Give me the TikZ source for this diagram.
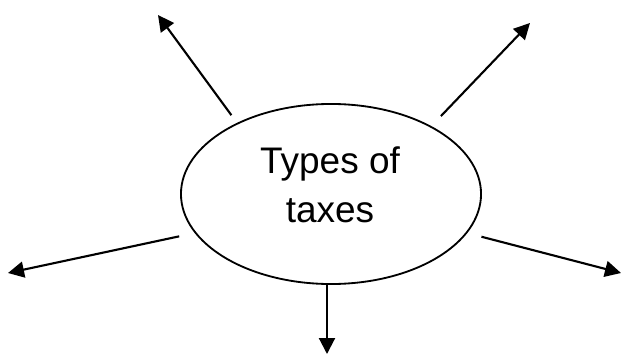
\documentclass[tikz,border=0pt]{standalone}
\usepackage{fontspec}
\setmainfont{Liberation Sans}
\usetikzlibrary{shapes.geometric,arrows.meta}
\begin{document}
\begin{tikzpicture}[x=0.025cm,y=-0.025cm]
      %% Styles for the mind map
      \tikzset
      {
      topic/.style={ellipse, draw, line width=1.3pt, inner sep=0pt, outer sep=0pt, minimum width=7.5cm, minimum height=4.5cm},
      topic text/.style={align=center, inner sep=0pt, font=\fontsize{26.3pt}{34.9pt}\selectfont},
      branch/.style={line width=1.5pt, -{Triangle[length=0.4cm, width=0.4cm]}},
      }
      \useasboundingbox (0,0) rectangle (622,354);
      %% Centre
      \node[topic] (types) at (331,194) {};
      \node[topic text] (title) at (330,185) {Types of\\taxes};
      %% Branch ends
      \coordinate (upleft) at (158,15);
      \coordinate (upright) at (530,23);
      \coordinate (left) at (8,273);
      \coordinate (right) at (621,273);
      \coordinate (down) at (327,354);
      %% Branches
      \draw [branch, shorten <=0.26cm] (types.143) -- (upleft);
      \draw [branch, shorten <=0.37cm] (types.34) -- (upright);
      \draw [branch, shorten <=0.42cm] (types.196) -- (left);
      \draw [branch, shorten <=0.39cm] (types.344) -- (right);
      \draw [branch] (down |- types.south) -- (down);
\end{tikzpicture}
\end{document}
